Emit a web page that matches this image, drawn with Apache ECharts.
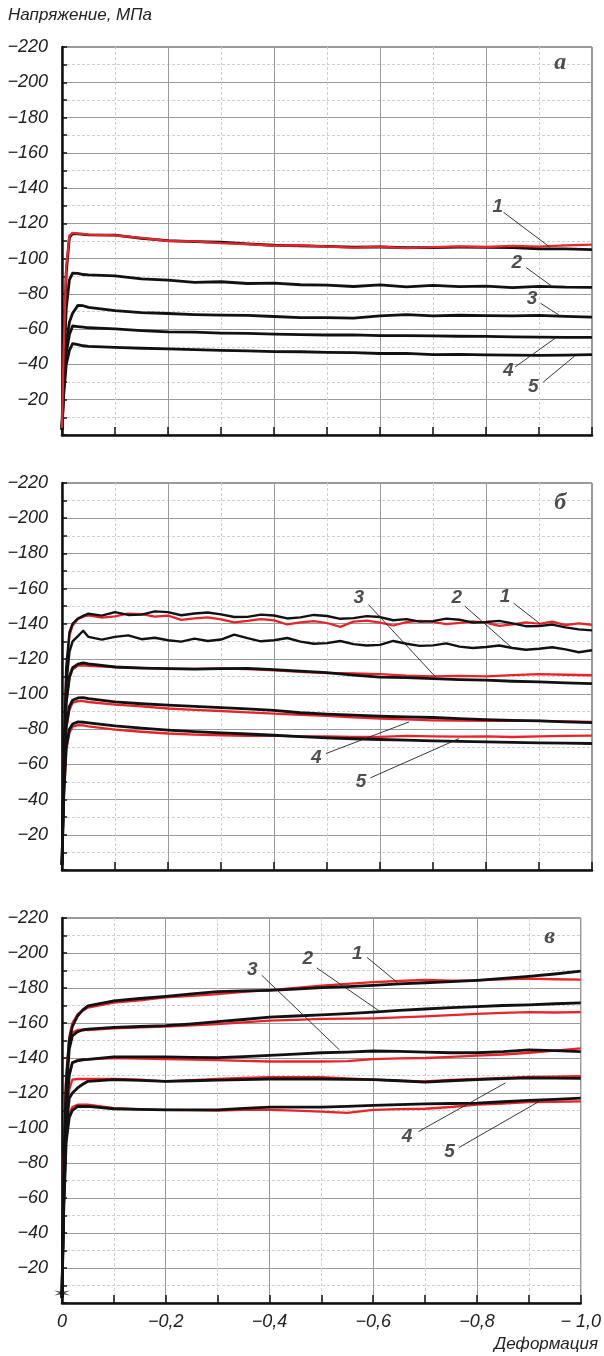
<!DOCTYPE html>
<html>
<head>
<meta charset="utf-8">
<script src="https://cdn.jsdelivr.net/npm/echarts@6/dist/echarts.min.js"></script>
<style>
  html, body { margin: 0; padding: 0; background: #fff; }
  #main { width: 604px; height: 1356px; }
</style>
</head>
<body>
<div id="main"></div>
<script>
// деформация (по модулю) - общая сетка по X для большинства кривых
var strain = [0, 0.003, 0.008, 0.014, 0.02, 0.03, 0.04, 0.05, 0.1, 0.15, 0.2, 0.25, 0.3, 0.35, 0.4, 0.45, 0.5, 0.55, 0.6, 0.65, 0.7, 0.75, 0.8, 0.85, 0.9, 0.95, 1.0];
// более частая сетка для шумных кривых панели б
var strainFine = [0, 0.003, 0.008, 0.014, 0.02, 0.03, 0.04, 0.05, 0.075, 0.1, 0.125, 0.15, 0.175, 0.2, 0.225, 0.25, 0.275, 0.3, 0.325, 0.35, 0.375, 0.4, 0.425, 0.45, 0.475, 0.5, 0.525, 0.55, 0.575, 0.6, 0.625, 0.65, 0.675, 0.7, 0.725, 0.75, 0.775, 0.8, 0.825, 0.85, 0.875, 0.9, 0.925, 0.95, 0.975, 1.0];

// панель а: напряжение по модулю, МПа
var a1Black = [4, 45, 92, 112, 114.2, 114, 113.8, 113.5, 113.3, 111.5, 110.2, 109.6, 109.3, 108.4, 107.6, 107.2, 106.9, 106.5, 106.6, 106.2, 106.3, 106.5, 106.4, 106.2, 105.6, 105.5, 105.1];
var a1Red   = [4, 47, 95, 113, 114.6, 114.2, 114, 113.6, 113.2, 111.8, 110.0, 109.8, 108.8, 108.2, 107.3, 107.6, 106.8, 106.2, 106.8, 106.0, 106.5, 106.9, 106.6, 107.2, 106.8, 107.5, 108.0];
var a2Black = [3, 35, 72, 88, 91.8, 91.6, 91, 90.8, 90.2, 88.5, 87.8, 86.5, 86.9, 85.9, 86.1, 85.2, 85.0, 84.2, 85.1, 84.0, 84.8, 84.1, 84.4, 83.6, 84.3, 83.8, 83.7];
var a3Black = [3, 28, 52, 64, 69, 73.5, 73.3, 72.4, 70.5, 69.4, 68.9, 68.3, 68.0, 67.8, 67.2, 66.5, 66.6, 66.3, 67.5, 68.2, 67.6, 67.9, 67.7, 67.5, 67.8, 67.3, 66.8];
var a4Black = [3, 25, 46, 57, 61.8, 61.5, 61.2, 60.8, 60.2, 59.2, 58.5, 58.3, 57.8, 57.6, 57.2, 56.9, 56.7, 56.8, 56.3, 56.4, 56.2, 56.0, 55.9, 55.6, 55.5, 55.4, 55.3];
var a5Black = [3, 22, 40, 48, 51.8, 51.2, 50.6, 50.2, 49.7, 49.2, 48.8, 48.4, 48.0, 47.7, 47.3, 47.2, 46.9, 46.7, 46.2, 46.3, 45.6, 45.7, 45.4, 45.3, 45.2, 45.3, 45.6];

// панель б (b1, b2 - по частой сетке)
var b1Black = [3, 60, 115, 135, 140, 143, 144.5, 145.7, 144.6, 146.6, 145.0, 145.2, 147.0, 146.6, 144.8, 145.8, 146.4, 145.3, 143.8, 143.9, 145.2, 144.7, 143.0, 143.6, 145.0, 144.4, 142.8, 143.2, 144.3, 143.8, 142.0, 142.6, 141.2, 141.5, 142.9, 142.3, 140.6, 141.0, 141.6, 140.2, 138.6, 138.7, 139.5, 137.9, 136.8, 136.2];
var b1Red   = [3, 58, 112, 133, 139, 142.5, 144, 144.7, 143.5, 144.2, 145.8, 145.5, 144.0, 144.6, 142.2, 143.0, 143.6, 142.5, 140.8, 141.6, 142.6, 141.9, 139.6, 140.8, 141.5, 140.4, 138.2, 141.2, 141.8, 140.6, 139.0, 140.9, 141.6, 141.0, 139.8, 140.5, 141.4, 140.6, 138.8, 139.6, 140.8, 140.0, 141.2, 139.2, 140.2, 139.4];
var b2Black = [3, 55, 105, 124, 130, 133, 136, 132.5, 131.0, 132.5, 133.4, 131.2, 132.0, 130.6, 129.8, 131.5, 130.2, 131.0, 133.8, 131.8, 130.0, 130.6, 131.9, 129.8, 128.6, 129.0, 130.2, 128.4, 127.6, 128.0, 130.2, 128.6, 127.4, 127.7, 128.8, 127.0, 126.2, 126.8, 127.6, 126.2, 125.2, 125.8, 126.6, 125.4, 123.8, 124.9];
var b3Black = [3, 50, 95, 110, 115, 117, 117.7, 117.2, 115.4, 114.8, 114.5, 114.2, 114.5, 114.6, 113.9, 113.0, 112.2, 110.8, 109.7, 109.4, 108.8, 108.2, 107.9, 107.3, 106.9, 106.4, 106.0];
var b3Red   = [3, 50, 95, 109, 114, 116.2, 116.4, 116.0, 115.4, 114.9, 114.5, 114.3, 114.6, 114.2, 113.5, 112.6, 112.0, 111.8, 111.3, 110.5, 110.1, 110.3, 110.1, 110.8, 111.3, 111.0, 110.7];
var b4Black = [3, 45, 82, 93, 96.5, 97.8, 98, 97.4, 95.6, 94.5, 93.7, 93.0, 92.3, 91.6, 90.8, 89.4, 88.6, 88.0, 87.4, 87.0, 86.7, 86.0, 85.5, 85.1, 84.8, 84.2, 83.8];
var b4Red   = [3, 44, 80, 91, 95, 96, 96, 95.5, 94, 93, 91.8, 91.0, 90.4, 89.6, 88.9, 88.2, 87.6, 86.8, 86.1, 85.6, 85.1, 85.0, 84.8, 84.8, 84.8, 84.5, 84.2];
var b5Black = [3, 40, 70, 80, 83, 84.2, 84, 83.6, 81.9, 80.6, 79.5, 78.7, 78.0, 77.3, 76.6, 75.8, 75.1, 74.6, 74.2, 73.8, 73.4, 73.1, 72.8, 72.5, 72.3, 72.1, 71.9];
var b5Red   = [3, 39, 68, 78, 81.5, 82.3, 82.2, 81.6, 79.8, 78.6, 77.6, 77.0, 76.6, 76.3, 76.4, 76.0, 76.0, 75.6, 75.7, 76.2, 76.0, 75.8, 76.0, 75.6, 76.0, 76.2, 76.4];

// панель в
var c1Black = [3, 70, 125, 150, 158, 164, 167.5, 169.8, 172.7, 174.0, 175.2, 176.6, 177.9, 178.3, 178.7, 179.4, 180.2, 180.8, 181.5, 182.3, 183.0, 183.6, 184.4, 185.5, 186.7, 188.0, 189.6];
var c1Red   = [3, 75, 130, 152, 160, 165, 167, 168.8, 171.7, 173.0, 174.6, 175.5, 176.5, 177.8, 178.8, 180.0, 181.3, 182.3, 183.3, 184.0, 184.6, 184.2, 184.4, 185.0, 185.4, 185.0, 184.8];
var c2Black = [3, 65, 120, 145, 152.7, 155, 156, 156.5, 157.5, 158.0, 158.5, 159.5, 160.8, 162.0, 163.3, 164.0, 164.6, 165.4, 166.2, 167.2, 168.0, 168.8, 169.4, 170.0, 170.4, 171.0, 171.5];
var c2Red   = [3, 70, 125, 148, 154.6, 156, 156.2, 156, 157, 157.5, 158, 158.6, 159.4, 160.4, 161.3, 161.8, 162.3, 162.5, 162.7, 163.2, 163.8, 164.5, 165.2, 165.8, 166.2, 166.0, 166.2];
var c3Black = [3, 60, 110, 130, 137.3, 138.5, 139, 139.2, 140.6, 140.6, 140.6, 140.4, 140.2, 140.8, 141.5, 142.2, 143.0, 143.4, 144.0, 143.8, 143.4, 143.0, 143.0, 143.6, 144.6, 144.2, 143.6];
var c3Red   = [3, 62, 112, 131, 137.5, 138.5, 139, 139.2, 140.0, 139.6, 139.4, 139.1, 138.8, 138.3, 138.0, 138.0, 138.0, 138.2, 139.4, 139.8, 140.0, 140.6, 141.3, 142.0, 143.0, 144.2, 145.5];
var c4Black = [3, 55, 100, 117, 120, 122.9, 125, 126.7, 127.7, 127.2, 126.7, 127.0, 127.3, 127.6, 128.0, 128.0, 128.0, 127.8, 127.7, 127.0, 126.2, 127.0, 127.7, 128.2, 128.7, 128.5, 128.3];
var c4Red   = [3, 60, 108, 122, 127.7, 128, 128, 128, 128, 127.6, 126.7, 127.4, 128.0, 128.6, 129.0, 129.0, 129.0, 128.4, 127.7, 127.0, 126.7, 127.5, 128.0, 128.7, 129.2, 129.4, 129.6];
var c5Black = [3, 50, 92, 106, 110, 112.3, 112.3, 112.3, 111.0, 110.6, 110.4, 110.4, 110.4, 111.2, 111.9, 111.9, 111.9, 112.4, 112.9, 113.4, 113.8, 114.0, 114.2, 115.0, 115.8, 116.3, 117.1];
var c5Red   = [3, 52, 95, 108, 112, 113.3, 113.3, 113.3, 111.3, 110.6, 110.4, 110.2, 110.0, 110.3, 110.4, 109.9, 109.4, 108.6, 110.4, 110.8, 111.0, 112.0, 113.3, 114.0, 114.8, 115.0, 115.2];

// отметка в начале координат (панель в)
var originMark = [0, 5.7];

// подписи кривых: [текст, x подписи, y подписи, x начала выноски, y, x конца, y]
var notesA = [
  ['1', 0.822, 129.5, 0.833, 126.3, 0.920, 106.6],
  ['2', 0.858, 97.7, 0.876, 94.9, 0.924, 84.4],
  ['3', 0.887, 77.1, 0.903, 74.7, 0.937, 68.1],
  ['4', 0.842, 36.2, 0.855, 38.6, 0.931, 55.0],
  ['5', 0.889, 27.4, 0.908, 30.0, 0.967, 44.7]
];
var notesB = [
  ['1', 0.836, 155.2, 0.852, 151.7, 0.902, 140.0],
  ['2', 0.745, 154.6, 0.760, 150.0, 0.851, 125.8],
  ['3', 0.560, 154.6, 0.578, 151.0, 0.705, 109.7],
  ['4', 0.480, 63.8, 0.498, 66.2, 0.655, 84.2],
  ['5', 0.564, 50.0, 0.582, 52.4, 0.749, 74.7]
];
var notesC = [
  ['1', 0.569, 199.8, 0.588, 197.5, 0.647, 183.0],
  ['2', 0.474, 196.5, 0.491, 191.5, 0.611, 167.0],
  ['3', 0.367, 190.2, 0.385, 187.3, 0.535, 144.6],
  ['4', 0.665, 95.0, 0.687, 97.9, 0.855, 125.8],
  ['5', 0.747, 86.3, 0.765, 88.8, 0.920, 115.2]
];
var panelLetters = [['а', 0.94, 211], ['б', 0.94, 209], ['в', 0.94, 209]];

var xTickLabels = ['0', '−0,2', '−0,4', '−0,6', '−0,8', '− 1,0'];

var RED = '#e8242b', BLACK = '#111';
var chart = echarts.init(document.getElementById('main'));

var gridTops = [47, 483, 918];
var gridHeights = [388, 387, 385];

var grids = [], xAxes = [], yAxes = [], series = [];

gridTops.forEach(function(top, i) {
  grids.push({ left: 62, right: 12, top: top, height: gridHeights[i],
    show: true, borderColor: '#333', borderWidth: 1 });

  xAxes.push({
    gridIndex: i, type: 'value', min: -1, max: 0, interval: 0.2, inverse: true,
    axisLine: { onZero: false, lineStyle: { color: BLACK, width: 2.5 } },
    axisTick: { show: true, inside: true, length: 8, lineStyle: { color: BLACK, width: 1.5 } },
    minorTick: { show: true, splitNumber: 2, length: 8, lineStyle: { color: BLACK, width: 1.5 } },
    splitLine: { show: true, lineStyle: { color: '#9a9a9a', width: 1 } },
    minorSplitLine: { show: true, lineStyle: { color: '#cfcfcf', width: 1, type: [3, 2] } },
    axisLabel: i < 2 ? { show: false } : {
      show: true, color: '#222', fontSize: 18, fontStyle: 'italic',
      fontFamily: 'Liberation Sans', margin: 10,
      formatter: function(v) { return xTickLabels[Math.round(-v / 0.2)]; }
    }
  });

  yAxes.push({
    gridIndex: i, type: 'value', min: -220, max: 0, interval: 20, inverse: true,
    axisLine: { onZero: false, lineStyle: { color: BLACK, width: 2.5 } },
    axisTick: { show: true, inside: true, length: 5, lineStyle: { color: BLACK, width: 1.5 } },
    minorTick: { show: true, splitNumber: 2, length: 5, lineStyle: { color: BLACK, width: 1.5 } },
    splitLine: { show: true, lineStyle: { color: '#9a9a9a', width: 1 } },
    minorSplitLine: { show: true, lineStyle: { color: '#cfcfcf', width: 1, type: [3, 2] } },
    axisLabel: {
      color: '#222', fontSize: 18, fontStyle: 'italic', fontFamily: 'Liberation Sans', margin: 14,
      formatter: function(v) { return v === 0 ? '' : '−' + Math.abs(v); }
    }
  });
});

function curve(g, xs, ys, color, width, z) {
  return {
    type: 'line', xAxisIndex: g, yAxisIndex: g, silent: true, z: z,
    showSymbol: false, smooth: false,
    lineStyle: { color: color, width: width, join: 'round' },
    data: xs.map(function(x, k) { return [-x, -ys[k]]; })
  };
}

// панель а - красная поверх черной
[a1Black, a2Black, a3Black, a4Black, a5Black].forEach(function(d) { series.push(curve(0, strain, d, BLACK, 2.8, 3)); });
series.push(curve(0, strain, a1Red, RED, 2.3, 4));

// панель б - черные поверх красных
series.push(curve(1, strainFine, b1Red, RED, 2.2, 3));
[b3Red, b4Red, b5Red].forEach(function(d) { series.push(curve(1, strain, d, RED, 2.3, 3)); });
series.push(curve(1, strainFine, b1Black, BLACK, 2.4, 4));
series.push(curve(1, strainFine, b2Black, BLACK, 2.4, 4));
[b3Black, b4Black, b5Black].forEach(function(d) { series.push(curve(1, strain, d, BLACK, 2.8, 4)); });

// панель в
[c1Red, c2Red, c3Red, c4Red, c5Red].forEach(function(d) { series.push(curve(2, strain, d, RED, 2.3, 3)); });
[c1Black, c2Black, c3Black, c4Black, c5Black].forEach(function(d) { series.push(curve(2, strain, d, BLACK, 2.8, 4)); });

// выноски и номера кривых
[notesA, notesB, notesC].forEach(function(notes, g) {
  series.push({
    type: 'lines', coordinateSystem: 'cartesian2d', xAxisIndex: g, yAxisIndex: g,
    silent: true, z: 5, polyline: false,
    lineStyle: { color: '#222', width: 0.9, opacity: 1 },
    data: notes.map(function(n) { return { coords: [[-n[3], -n[4]], [-n[5], -n[6]]] }; })
  });
  series.push({
    type: 'scatter', xAxisIndex: g, yAxisIndex: g, silent: true, z: 6,
    symbolSize: 0, clip: false,
    label: { show: true, position: 'inside', formatter: '{b}', color: '#222',
      fontSize: 19, fontStyle: 'italic', fontWeight: 'bold', fontFamily: 'Liberation Sans' },
    data: notes.map(function(n) { return { name: n[0], value: [-n[1], -n[2]] }; })
  });
  // буква панели
  series.push({
    type: 'scatter', xAxisIndex: g, yAxisIndex: g, silent: true, z: 6,
    symbolSize: 0,
    label: { show: true, position: 'inside', formatter: '{b}', color: '#222',
      fontSize: 24, fontStyle: 'italic', fontWeight: 'bold', fontFamily: 'Liberation Serif' },
    data: [{ name: panelLetters[g][0], value: [-panelLetters[g][1], -panelLetters[g][2]] }]
  });
});

// звездочка в начале координат
series.push({
  type: 'scatter', xAxisIndex: 2, yAxisIndex: 2, silent: true, z: 7, clip: false,
  symbol: 'path://M0,-10 L1.5,-2.6 L8.7,-5 L3,0 L8.7,5 L1.5,2.6 L0,10 L-1.5,2.6 L-8.7,5 L-3,0 L-8.7,-5 L-1.5,-2.6 Z',
  symbolSize: [16, 10], itemStyle: { color: BLACK },
  data: [[-originMark[0], -originMark[1]]]
});

var option = {
  animation: false,
  backgroundColor: '#fff',
  grid: grids,
  xAxis: xAxes,
  yAxis: yAxes,
  graphic: [
    { type: 'text', left: 8, top: 7,
      style: { text: 'Напряжение, МПа', fill: '#222', fontSize: 17, fontStyle: 'italic', fontFamily: 'Liberation Sans' } },
    { type: 'text', right: 6, top: 1336,
      style: { text: 'Деформация', fill: '#222', fontSize: 17, fontStyle: 'italic', fontFamily: 'Liberation Sans' } }
  ],
  series: series
};
chart.setOption(option);
</script>
</body>
</html>
